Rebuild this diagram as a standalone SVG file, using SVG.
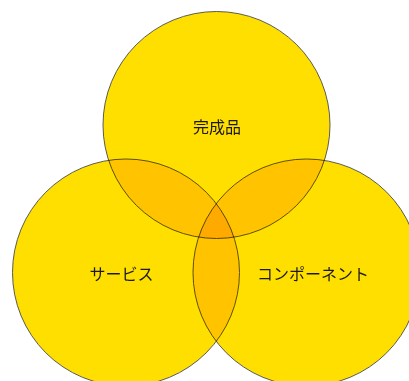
<svg xmlns="http://www.w3.org/2000/svg" width="409" height="381" viewBox="0 0 409 381">
<style>
.c{fill:#FFDF00;stroke:#4a4a4a;stroke-width:0.9;mix-blend-mode:multiply}
.t{font-family:"Noto Sans CJK JP","Noto Sans",sans-serif;font-size:16px;fill:#1a1a1a;text-anchor:middle;dominant-baseline:central}
</style>
<rect width="409" height="381" fill="#ffffff"/>
<g style="isolation:isolate">
<g id="kanseihin"><circle class="c" cx="216.5" cy="125" r="113.5"/></g>
<g id="service"><circle class="c" cx="126" cy="272.5" r="113.5"/></g>
<g id="component"><circle class="c" cx="306.5" cy="272.5" r="113.5"/></g>
</g>
<g id="labels">
<text class="t" x="217" y="126">完成品</text>
<text class="t" x="121.5" y="273">サービス</text>
<text class="t" x="313" y="273">コンポーネント</text>
</g>
</svg>
